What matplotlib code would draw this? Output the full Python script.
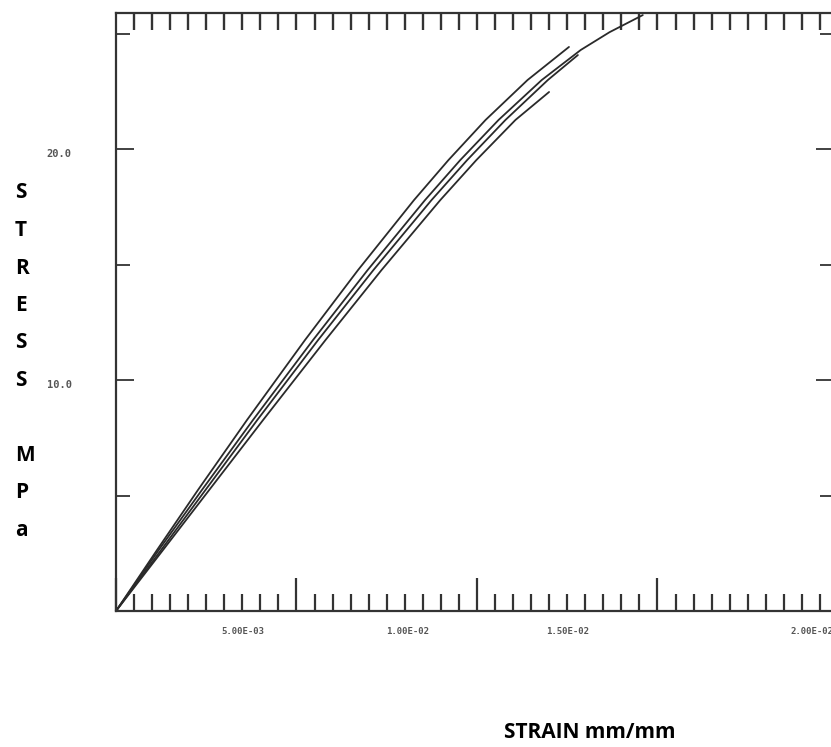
import numpy as np
import matplotlib
matplotlib.use("Agg")
import matplotlib.pyplot as plt
from matplotlib.ticker import MultipleLocator
import matplotlib.transforms as mtransforms

# stress-strain curves (strain in mm/mm, stress in MPa)
strain_1 = [0, 1.136e-3, 2.271e-3, 3.629e-3, 5.235e-3, 6.704e-3, 8.255e-3,
            9.208e-3, 10.238e-3, 11.402e-3, 12.548e-3]
stress_1 = [0, 2.64, 5.24, 8.27, 11.73, 14.76, 17.79, 19.52, 21.26, 22.99, 24.42]

strain_2 = [0, 1.183e-3, 2.380e-3, 3.795e-3, 5.457e-3, 6.970e-3, 8.560e-3,
            9.535e-3, 10.598e-3, 11.795e-3, 12.875e-3, 13.673e-3, 14.593e-3]
stress_2 = [0, 2.64, 5.24, 8.27, 11.73, 14.76, 17.79, 19.52, 21.26, 22.99,
            24.29, 25.06, 25.80]

strain_3 = [0, 1.249e-3, 2.479e-3, 3.914e-3, 5.598e-3, 7.130e-3, 8.740e-3,
            9.726e-3, 10.789e-3, 11.964e-3, 12.795e-3]
stress_3 = [0, 2.64, 5.24, 8.27, 11.73, 14.76, 17.79, 19.52, 21.26, 22.99, 24.07]

strain_4 = [0, 1.302e-3, 2.582e-3, 4.075e-3, 5.803e-3, 7.355e-3, 8.983e-3,
            9.981e-3, 11.066e-3, 11.997e-3]
stress_4 = [0, 2.64, 5.24, 8.27, 11.73, 14.76, 17.79, 19.52, 21.26, 22.47]

stress_ticks = [10, 20]
stress_ticklabels = ["10.0", "20.0"]
strain_ticklabels = ["5.00E-03", "1.00E-02", "1.50E-02", "2.00E-02"]
# where the strain labels sit on the scan (they drift from the major ticks)
strain_label_at = [3.52e-3, 8.09e-3, 12.52e-3, 19.28e-3]

W, H = 831, 747
fig = plt.figure(figsize=(W / 100, H / 100), dpi=100)
# the scan is cropped just before the right-hand frame line
ax = fig.add_axes([116 / W, (H - 611) / H, 718 / W, 598 / H])

ink = "#2a2a2a"
for xs, ys in [(strain_1, stress_1), (strain_2, stress_2),
               (strain_3, stress_3), (strain_4, stress_4)]:
    ax.plot(xs, ys, color=ink, linewidth=1.3, solid_capstyle="round",
            solid_joinstyle="round")

ax.set_xlim(0, 19.89e-3)
ax.set_ylim(0, 25.89)

for s in ax.spines.values():
    s.set_color("#333333")
    s.set_linewidth(1.6)

# bottom: long ticks every 5E-3, short ones every 5E-4, all pointing in
ax.xaxis.set_major_locator(MultipleLocator(5e-3))
ax.xaxis.set_minor_locator(MultipleLocator(5e-4))
ax.tick_params(axis="x", which="major", direction="in", length=24, width=1.6,
               color="#333333", labelbottom=False, top=False)
ax.tick_params(axis="x", which="minor", direction="in", length=12, width=1.6,
               color="#333333", top=False)

# top edge has only the short ticks
top = ax.secondary_xaxis("top")
top.set_xticks(np.arange(5e-4, 19.89e-3, 5e-4))
top.tick_params(direction="in", length=12, width=1.7, color="#333333",
                labeltop=False)
top.spines["top"].set_visible(False)

ax.set_yticks(stress_ticks, labels=stress_ticklabels)
ax.yaxis.set_minor_locator(MultipleLocator(5))
ax.tick_params(axis="y", which="major", direction="in", length=13, width=1.3,
               color="#333333", right=True, pad=32, labelsize=7.5,
               labelcolor="#555555")
ax.tick_params(axis="y", which="minor", direction="in", length=10, width=1.3,
               color="#333333", right=True)
for lab in ax.get_yticklabels():
    lab.set_family("DejaVu Sans Mono")
    lab.set_fontweight("bold")
    lab.set_verticalalignment("top")

trans = mtransforms.blended_transform_factory(ax.transData, ax.transAxes)
for x, txt in zip(strain_label_at, strain_ticklabels):
    ax.text(x, -0.035, txt, transform=trans, ha="center", va="center",
            fontsize=6.5, family="DejaVu Sans Mono", fontweight="bold",
            color="#555555")

# vertical axis title, one letter per line
letters = ["S", "T", "R", "E", "S", "S", "", "M", "P", "a"]
for i, ch in enumerate(letters):
    if ch:
        fig.text(15 / W, 1 - (193 + i * 37.5) / H, ch, ha="left",
                 va="center", fontsize=15, fontweight="bold",
                 family="Open Sans", color="black")

fig.text(590 / W, 1 - 733 / H, "STRAIN mm/mm", ha="center", va="center",
         fontsize=15, fontweight="bold", family="Open Sans", color="black")

fig.savefig("out.png", dpi=100, facecolor="white")
